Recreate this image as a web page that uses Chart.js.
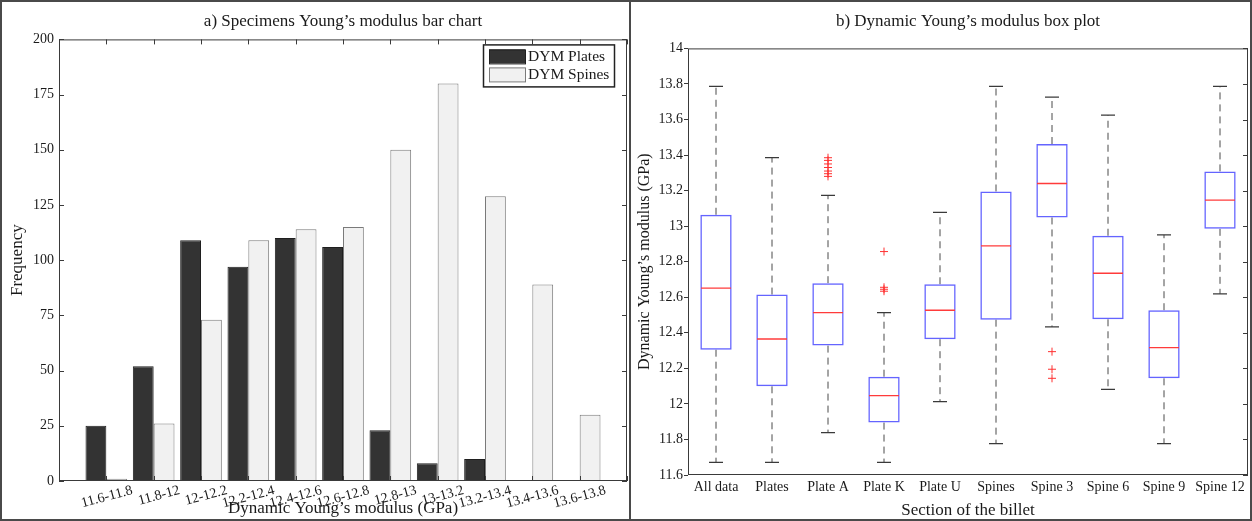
<!DOCTYPE html>
<html>
<head>
<meta charset="utf-8">
<script src="https://cdn.jsdelivr.net/npm/chart.js@4.4.1/dist/chart.umd.min.js"></script>
<style>
  html, body { margin: 0; padding: 0; background: #fff; }
  #wrap { position: relative; width: 1252px; height: 521px; box-sizing: border-box; border: 2px solid #4a4a4a; }
  #divider { position: absolute; left: 627px; top: 0; width: 2px; height: 517px; background: #4a4a4a; }
  #left { position: absolute; left: 0; top: 0; width: 627px; height: 517px; }
  #right { position: absolute; left: 630px; top: 0; width: 618px; height: 517px; }
</style>
</head>
<body>
<div id="wrap">
  <div id="left"><canvas id="barChart"></canvas></div>
  <div id="divider"></div>
  <div id="right"><canvas id="boxChart"></canvas></div>
</div>
<script>
// a) bar chart data
const barLabels = ['11.6-11.8', '11.8-12', '12-12.2', '12.2-12.4', '12.4-12.6', '12.6-12.8', '12.8-13', '13-13.2', '13.2-13.4', '13.4-13.6', '13.6-13.8'];
const platesFreq = [25, 52, 109, 97, 110, 106, 23, 8, 10, 0, 0];
const spinesFreq = [1, 26, 73, 109, 114, 115, 150, 180, 129, 89, 30];

// b) box plot data
const sections = ['All data', 'Plates', 'Plate A', 'Plate K', 'Plate U', 'Spines', 'Spine 3', 'Spine 6', 'Spine 9', 'Spine 12'];
const whiskerLow = [11.671, 11.671, 11.838, 11.671, 12.013, 11.776, 12.433, 12.082, 11.776, 12.619];
const q1 = [12.305, 12.099, 12.328, 11.895, 12.364, 12.474, 13.049, 12.476, 12.144, 12.985];
const medians = [12.651, 12.365, 12.514, 12.047, 12.527, 12.889, 13.240, 12.735, 12.317, 13.146];
const q3 = [13.064, 12.615, 12.679, 12.153, 12.673, 13.195, 13.462, 12.946, 12.527, 13.308];
const whiskerHigh = [13.786, 13.385, 13.173, 12.514, 13.077, 13.786, 13.726, 13.625, 12.951, 13.786];
const outlierSection = ['Plate A', 'Plate A', 'Plate A', 'Plate A', 'Plate A', 'Plate A', 'Plate A',
                        'Plate K', 'Plate K', 'Plate K', 'Plate K',
                        'Spine 3', 'Spine 3', 'Spine 3'];
const outlierValue = [13.28, 13.295, 13.31, 13.33, 13.35, 13.37, 13.385,
                      12.857, 12.656, 12.645, 12.634,
                      12.294, 12.195, 12.144];

const serif = 'Liberation Serif';
Chart.defaults.font.family = serif;
Chart.defaults.color = '#1a1a1a';

// frame round the plot area and inward tick marks
const frameTicks = {
  id: 'frameTicks',
  afterDatasetsDraw(chart, args, opts) {
    const { ctx, chartArea: a, scales } = chart;
    const len = 5;
    ctx.save();
    ctx.strokeStyle = '#3a3a3a';
    ctx.lineWidth = 1;
    ctx.strokeRect(a.left + 0.5, a.top + 0.5, a.right - a.left - 1, a.bottom - a.top - 1);
    ctx.beginPath();
    scales.y.ticks.forEach(t => {
      const y = Math.round(scales.y.getPixelForValue(t.value)) + 0.5;
      if (opts.yLeft) { ctx.moveTo(a.left, y); ctx.lineTo(a.left + len, y); }
      ctx.moveTo(a.right, y); ctx.lineTo(a.right - len, y);
    });
    if (opts.xTicks) {
      scales.x.ticks.forEach(t => {
        const x = Math.round(scales.x.getPixelForValue(t.value)) + 0.5;
        ctx.moveTo(x, a.bottom); ctx.lineTo(x, a.bottom - len);
        ctx.moveTo(x, a.top); ctx.lineTo(x, a.top + len);
      });
    }
    ctx.stroke();
    ctx.restore();
  }
};

// legend box inside the plot area, top right
const boxLegend = {
  id: 'boxLegend',
  afterDraw(chart) {
    const { ctx, chartArea: a } = chart;
    const w = 131, h = 42;
    const x = a.right - 13 - w, y = a.top + 5;
    ctx.save();
    ctx.fillStyle = '#fff';
    ctx.fillRect(x, y, w, h);
    ctx.strokeStyle = '#222';
    ctx.lineWidth = 1.5;
    ctx.strokeRect(x + 0.5, y + 0.5, w, h);
    ctx.font = '15.5px ' + serif;
    ctx.textBaseline = 'middle';
    chart.data.datasets.forEach((ds, i) => {
      const cy = y + 12 + i * 18;
      ctx.fillStyle = ds.backgroundColor;
      ctx.fillRect(x + 6, cy - 7, 36, 14);
      ctx.strokeStyle = ds.borderColor;
      ctx.lineWidth = 1;
      ctx.strokeRect(x + 6.5, cy - 6.5, 36, 14);
      ctx.fillStyle = '#1a1a1a';
      ctx.fillText(ds.label, x + 45, cy + 1);
    });
    ctx.restore();
  }
};

const noSidePadding = s => { s.paddingLeft = 0; s.paddingRight = 0; };

new Chart(document.getElementById('barChart'), {
  type: 'bar',
  data: {
    datasets: [
      {
        label: 'DYM Plates',
        data: platesFreq.map((v, i) => ({ x: i + 1, y: v })),
        backgroundColor: '#333333',
        borderColor: '#1f1f1f',
        borderWidth: 1,
        barPercentage: 1,
        categoryPercentage: 0.88
      },
      {
        label: 'DYM Spines',
        data: spinesFreq.map((v, i) => ({ x: i + 1, y: v })),
        backgroundColor: '#f1f1f1',
        borderColor: '#7a7a7a',
        borderWidth: 1,
        barPercentage: 1,
        categoryPercentage: 0.88
      }
    ]
  },
  options: {
    responsive: true,
    maintainAspectRatio: false,
    animation: false,
    layout: { autoPadding: false, padding: { right: 2, left: 0, top: 0, bottom: 0 } },
    plugins: {
      legend: { display: false },
      tooltip: { enabled: false },
      title: {
        display: true,
        fullSize: false,
        text: 'a) Specimens Young\u2019s modulus bar chart',
        font: { size: 17, weight: 'normal', family: serif },
        color: '#1a1a1a',
        padding: { top: 9, bottom: 8 }
      },
      frameTicks: { yLeft: true, xTicks: true }
    },
    scales: {
      x: {
        type: 'linear',
        min: 0,
        max: 12,
        offset: false,
        grid: { display: false, drawTicks: false },
        border: { display: false },
        afterFit: s => { s.height = 38; noSidePadding(s); },
        ticks: {
          stepSize: 1,
          autoSkip: false,
          maxRotation: 15,
          minRotation: 15,
          padding: 1,
          labelOffset: 26,
          font: { size: 14 },
          callback: v => barLabels[v - 1] || ''
        },
        title: {
          display: true,
          text: 'Dynamic Young\u2019s modulus (GPa)',
          font: { size: 17 },
          padding: { top: 0, bottom: 0 }
        }
      },
      y: {
        min: 0,
        max: 200,
        grid: { display: false, drawTicks: false },
        border: { display: false },
        afterFit: s => { s.width = 57; },
        ticks: { stepSize: 25, padding: 5, font: { size: 14 } },
        title: {
          display: true,
          text: 'Frequency',
          font: { size: 17 },
          padding: { top: 5, bottom: 0 }
        }
      }
    }
  },
  plugins: [frameTicks, boxLegend]
});

const whiskerPoints = sections.flatMap((s, i) => [
  { x: s, y: q3[i] }, { x: s, y: whiskerHigh[i] }, { x: s, y: null },
  { x: s, y: q1[i] }, { x: s, y: whiskerLow[i] }, { x: s, y: null }
]);

new Chart(document.getElementById('boxChart'), {
  type: 'bar',
  data: {
    labels: sections,
    datasets: [
      {
        type: 'line',
        label: 'median',
        data: medians,
        showLine: false,
        pointStyle: 'line',
        pointRadius: 15,
        pointBorderColor: '#ff3b3b',
        pointBorderWidth: 1.3
      },
      {
        type: 'line',
        label: 'upper adjacent',
        data: whiskerHigh,
        showLine: false,
        pointStyle: 'line',
        pointRadius: 7,
        pointBorderColor: '#3a3a3a',
        pointBorderWidth: 1.2
      },
      {
        type: 'line',
        label: 'lower adjacent',
        data: whiskerLow,
        showLine: false,
        pointStyle: 'line',
        pointRadius: 7,
        pointBorderColor: '#3a3a3a',
        pointBorderWidth: 1.2
      },
      {
        type: 'line',
        label: 'outliers',
        data: outlierSection.map((s, i) => ({ x: s, y: outlierValue[i] })),
        showLine: false,
        pointStyle: 'cross',
        pointRadius: 4,
        pointBorderColor: '#ff3030',
        pointBorderWidth: 1
      },
      {
        label: 'box',
        data: sections.map((s, i) => [q1[i], q3[i]]),
        backgroundColor: 'rgba(255,255,255,0)',
        borderColor: '#6464ff',
        borderWidth: 1.5,
        borderSkipped: false,
        barPercentage: 0.56,
        categoryPercentage: 1
      },
      {
        type: 'line',
        label: 'whiskers',
        data: whiskerPoints,
        borderColor: '#4a4a4a',
        borderWidth: 1,
        borderDash: [7, 5],
        pointRadius: 0,
        spanGaps: false
      }
    ]
  },
  options: {
    responsive: true,
    maintainAspectRatio: false,
    animation: false,
    layout: { autoPadding: false, padding: { right: 2, left: 0, top: 0, bottom: 0 } },
    plugins: {
      legend: { display: false },
      tooltip: { enabled: false },
      title: {
        display: true,
        fullSize: false,
        text: 'b) Dynamic Young\u2019s modulus box plot',
        font: { size: 17, weight: 'normal', family: serif },
        color: '#1a1a1a',
        padding: { top: 9, bottom: 17 }
      },
      frameTicks: { yLeft: false, xTicks: false }
    },
    scales: {
      x: {
        grid: { display: false, drawTicks: false },
        border: { display: false },
        afterFit: s => { s.height = 44; noSidePadding(s); },
        ticks: { padding: 4, font: { size: 14 }, maxRotation: 0, autoSkip: false },
        title: {
          display: true,
          text: 'Section of the billet',
          font: { size: 17, lineHeight: 1 },
          padding: { top: 0, bottom: 0 }
        }
      },
      y: {
        min: 11.6,
        max: 14,
        grid: { display: true, drawOnChartArea: false, drawTicks: true, tickLength: 4, color: '#3a3a3a' },
        border: { display: false },
        afterFit: s => { s.width = 56; },
        ticks: {
          stepSize: 0.2,
          padding: 1,
          font: { size: 14 },
          callback: v => String(Number(v.toFixed(1)))
        },
        title: {
          display: true,
          text: 'Dynamic Young\u2019s modulus (GPa)',
          font: { size: 16 },
          padding: { top: 3, bottom: 0 }
        }
      }
    }
  },
  plugins: [frameTicks]
});
</script>
</body>
</html>
